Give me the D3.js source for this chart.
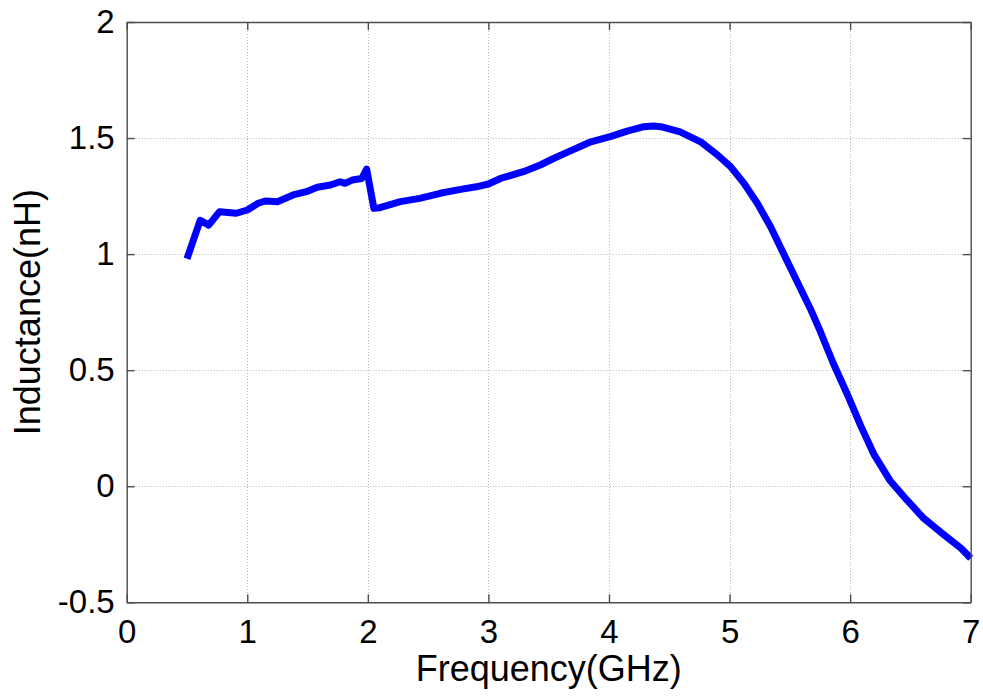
<!DOCTYPE html>
<html>
<head>
<meta charset="utf-8">
<script src="https://cdn.jsdelivr.net/npm/d3@7"></script>
<style>
  body { margin: 0; background: #fff; }
  svg { display: block; }
  text { font-family: Arial, "Liberation Sans", sans-serif; fill: #000; }
</style>
</head>
<body>
<svg id="chart" width="983" height="696"></svg>
<script>
// Measured inductance versus frequency
const frequencyGHz = [0.50, 0.61, 0.68, 0.77, 0.91, 1.00, 1.09, 1.15, 1.25, 1.38, 1.49, 1.58, 1.69, 1.77, 1.81, 1.87, 1.95, 1.99,
  2.05, 2.10, 2.27, 2.43, 2.60, 2.77, 2.90, 3.00, 3.10, 3.29, 3.43, 3.54, 3.68, 3.85, 4.01, 4.15, 4.29, 4.37, 4.43,
  4.59, 4.76, 4.90, 5.01, 5.12, 5.23, 5.34, 5.45, 5.56, 5.67, 5.75, 5.86, 5.98, 6.09, 6.20, 6.33, 6.47, 6.61, 6.78, 6.92, 7.00];
const inductanceNH = [0.98, 1.146, 1.125, 1.183, 1.176, 1.19, 1.219, 1.229, 1.226, 1.255, 1.269, 1.288, 1.298, 1.312, 1.305, 1.319, 1.326, 1.366,
  1.197, 1.20, 1.226, 1.240, 1.262, 1.279, 1.290, 1.302, 1.326, 1.355, 1.384, 1.412, 1.445, 1.484, 1.506, 1.530, 1.549, 1.552, 1.549,
  1.527, 1.484, 1.427, 1.376, 1.305, 1.219, 1.118, 1.000, 0.882, 0.765, 0.670, 0.530, 0.392, 0.258, 0.135, 0.025, -0.059, -0.138, -0.210, -0.267, -0.31];

const xTicks = [0, 1, 2, 3, 4, 5, 6, 7];
const yTicks = [-0.5, 0, 0.5, 1, 1.5, 2];
const xLabel = "Frequency(GHz)";
const yLabel = "Inductance(nH)";

const W = 983, H = 696;
const margin = { top: 22, right: 12.3, bottom: 93.7, left: 126.7 };
const svg = d3.select("#chart");

const x = d3.scaleLinear().domain([0, 7]).range([margin.left, W - margin.right]);
const y = d3.scaleLinear().domain([-0.5, 2]).range([H - margin.bottom, margin.top]);

const tickFS = 33;
const labelFS = 36;
const axisColor = "#4d4d4d";

// grid
const grid = svg.append("g").attr("stroke", "#b4b4b4").attr("stroke-width", 1).attr("stroke-dasharray", "1,2");
grid.selectAll(".gx").data(xTicks.slice(1, -1)).join("line")
  .attr("x1", d => Math.round(x(d)) + 0.5).attr("x2", d => Math.round(x(d)) + 0.5)
  .attr("y1", y(2)).attr("y2", y(-0.5));
grid.selectAll(".gy").data(yTicks.slice(1, -1)).join("line")
  .attr("y1", d => Math.round(y(d)) + 0.5).attr("y2", d => Math.round(y(d)) + 0.5)
  .attr("x1", x(0)).attr("x2", x(7));

// curve
const line = d3.line().x((d, i) => x(frequencyGHz[i])).y(d => y(d));
svg.append("path").datum(inductanceNH)
  .attr("d", line)
  .attr("fill", "none")
  .attr("stroke", "#0000ff")
  .attr("stroke-width", 7)
  .attr("stroke-linejoin", "round")
  .attr("stroke-linecap", "butt");

// axes (ticks pointing inward on all sides)
function styleAxis(g) {
  g.select(".domain").attr("stroke", axisColor).attr("stroke-width", 1.4);
  g.selectAll(".tick line").attr("stroke", axisColor).attr("stroke-width", 1.4);
  g.selectAll(".tick text").attr("font-size", tickFS).attr("fill", "#000");
}
const tickLen = 8;
svg.append("g").attr("transform", `translate(0,${y(-0.5)})`)
  .call(d3.axisBottom(x).tickValues(xTicks).tickFormat(d => String(d)).tickSizeInner(-tickLen).tickSizeOuter(0).tickPadding(17))
  .call(styleAxis);
svg.append("g").attr("transform", `translate(0,${y(2)})`)
  .call(d3.axisTop(x).tickValues(xTicks).tickFormat("").tickSizeInner(-tickLen).tickSizeOuter(0))
  .call(styleAxis);
svg.append("g").attr("transform", `translate(${x(0)},0)`)
  .call(d3.axisLeft(y).tickValues(yTicks).tickFormat(d => String(d)).tickSizeInner(-tickLen).tickSizeOuter(0).tickPadding(12))
  .call(styleAxis);
svg.append("g").attr("transform", `translate(${x(7)},0)`)
  .call(d3.axisRight(y).tickValues(yTicks).tickFormat("").tickSizeInner(-tickLen).tickSizeOuter(0))
  .call(styleAxis);

// axis titles
svg.append("text")
  .attr("x", (x(0) + x(7)) / 2).attr("y", 681)
  .attr("text-anchor", "middle").attr("font-size", labelFS)
  .text(xLabel);
svg.append("text")
  .attr("transform", `translate(40,${(y(-0.5) + y(2)) / 2}) rotate(-90)`)
  .attr("text-anchor", "middle").attr("font-size", labelFS)
  .text(yLabel);
</script>
</body>
</html>
